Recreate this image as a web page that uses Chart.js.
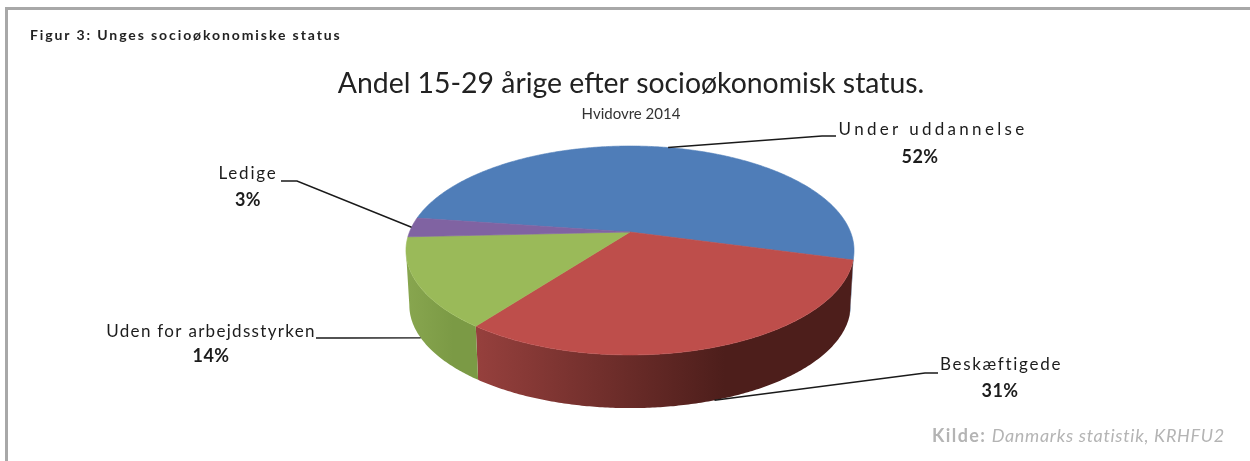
<!DOCTYPE html>
<html lang="da">
<head>
<meta charset="utf-8">
<title>Andel 15-29 årige efter socioøkonomisk status</title>
<script src="https://cdn.jsdelivr.net/npm/chart.js@4/dist/chart.umd.min.js"></script>
<style>
  html, body { margin: 0; background: #fff; }
  #page { position: relative; width: 1250px; height: 461px; overflow: hidden; background: #fff; filter: blur(0.55px); }
  #frame { position: absolute; left: 5px; top: 7px; width: 1260px; height: 480px; border: 3px solid #a8a8a8; }
  #chart { position: absolute; left: 0; top: 0; }
  #figur { position: absolute; left: 30px; top: 26px; font: bold 14px Lato, sans-serif; color: #222; letter-spacing: 1.9px; white-space: nowrap; }
  #kilde { position: absolute; right: 25px; top: 424px; font: 18px Lato, sans-serif; color: #b4b4b4; letter-spacing: 0.7px; white-space: nowrap; }
  #kilde b { letter-spacing: 1.4px; }
</style>
</head>
<body>
<div id="page">
  <div id="frame"></div>
  <canvas id="chart" width="1250" height="461"></canvas>
  <div id="figur">Figur 3: Unges socioøkonomiske status</div>
  <div id="kilde"><b>Kilde:</b> <i>Danmarks statistik, KRHFU2</i></div>
</div>
<script>
'use strict';

/* ── DATA ── */
const categories = ['Under uddannelse', 'Beskæftigede', 'Uden for arbejdsstyrken', 'Ledige'];
const shares = [52, 31, 14, 3];

/* ── COLOURS ── */
const topColors = ['#4f7db8', '#be4e4b', '#9aba59', '#8063a2'];
const wallLight = ['#3b5f8c', '#96403d', '#88a64f', '#60497c'];
const wallDark  = ['#34547c', '#4d1e1b', '#7b9a45', '#60497c'];

/* ── LABEL PLACEMENT ── */
const labelX = [933, 1001, 211, 248];
const labelY = [130, 365, 332, 174];
const pctX   = [920, 1000, 211, 248];
const pctY   = [157, 391, 356, 200];
const labelSpacing = ['3.3px', '1.7px', '1.3px', '1.8px'];

/* leader lines: elbow points from the label side, and whether they land on the lower rim */
const elbowA = [[836, 136], [938, 373], [316, 338], [281, 181]];
const elbowB = [[822, 136], [925, 373], [345, 338], [297, 181]];
const onLowerRim = [false, true, true, false];

/* ── PIE PROJECTION (tilted disc with perspective) ── */
const APEX_X = 630, APEX_Y = 232;
const RX = 220.5, RY = 101.2, PERSP = 0.177;
const DEPTH = 55, LOWER_SCALE = 0.985;

function rim(theta, lower) {
  const u = Math.cos(theta), v = Math.sin(theta);
  const d = 1 - PERSP * v;
  const s = lower ? LOWER_SCALE : 1;
  return [
    APEX_X + s * RX * u / d,
    APEX_Y + (lower ? DEPTH : 0) + s * RY * v / d
  ];
}

function tracePath(ctx, points) {
  ctx.beginPath();
  points.forEach((p, i) => (i ? ctx.lineTo(p[0], p[1]) : ctx.moveTo(p[0], p[1])));
  ctx.closePath();
}

function arcPoints(a, b, lower) {
  const n = Math.max(2, Math.ceil(Math.abs(b - a) / 0.01));
  const pts = [];
  for (let i = 0; i <= n; i++) pts.push(rim(a + (b - a) * i / n, lower));
  return pts;
}

/* ── 3D PIE PLUGIN: takes the slice angles from the library's arc elements ── */
const pie3d = {
  id: 'pie3d',
  beforeDatasetsDraw(chart) {
    const ctx = chart.ctx;
    const arcs = chart.getDatasetMeta(0).data;
    const edge = Math.asin(PERSP);

    ctx.save();
    // side walls
    arcs.forEach((arc, i) => {
      for (let turn = 0; turn < 2; turn++) {
        const lo = Math.max(arc.startAngle, edge + turn * 2 * Math.PI);
        const hi = Math.min(arc.endAngle, Math.PI - edge + turn * 2 * Math.PI);
        if (hi <= lo) continue;
        const upper = arcPoints(lo, hi, false);
        const lower = arcPoints(hi, lo, true);
        const pts = upper.concat(lower);
        const xs = pts.map(p => p[0]);
        const g = ctx.createLinearGradient(Math.min(...xs), 0, Math.max(...xs), 0);
        g.addColorStop(0, wallLight[i]);
        g.addColorStop(0.66, wallDark[i]);
        g.addColorStop(1, wallDark[i]);
        tracePath(ctx, pts);
        ctx.fillStyle = g;
        ctx.fill();
      }
    });
    // top faces
    arcs.forEach((arc, i) => {
      tracePath(ctx, [[APEX_X, APEX_Y]].concat(arcPoints(arc.startAngle, arc.endAngle, false)));
      ctx.fillStyle = topColors[i];
      ctx.strokeStyle = topColors[i];
      ctx.lineWidth = 0.6;
      ctx.fill();
      ctx.stroke();
    });
    // leader lines
    ctx.strokeStyle = '#1a1a1a';
    ctx.lineWidth = 1.4;
    arcs.forEach((arc, i) => {
      const end = rim((arc.startAngle + arc.endAngle) / 2, onLowerRim[i]);
      ctx.beginPath();
      ctx.moveTo(elbowA[i][0], elbowA[i][1]);
      ctx.lineTo(elbowB[i][0], elbowB[i][1]);
      ctx.lineTo(end[0], end[1]);
      ctx.stroke();
    });
    // data labels
    ctx.textAlign = 'center';
    ctx.textBaseline = 'middle';
    ctx.fillStyle = '#1c1c1c';
    categories.forEach((name, i) => {
      ctx.font = '17px Lato, sans-serif';
      ctx.letterSpacing = labelSpacing[i];
      ctx.fillText(name, labelX[i], labelY[i]);
      ctx.font = 'bold 18px Lato, sans-serif';
      ctx.letterSpacing = '0.4px';
      ctx.fillText(shares[i] + '%', pctX[i], pctY[i]);
    });
    ctx.letterSpacing = '0px';
    ctx.restore();
    return false;
  }
};

new Chart(document.getElementById('chart'), {
  type: 'pie',
  data: {
    labels: categories,
    datasets: [{ data: shares, backgroundColor: topColors, borderWidth: 0 }]
  },
  options: {
    responsive: false,
    animation: false,
    rotation: 278.1,
    layout: { padding: { left: 12, top: 0 } },
    plugins: {
      legend: { display: false },
      tooltip: { enabled: false },
      title: {
        display: true,
        text: 'Andel 15-29 årige efter socioøkonomisk status.',
        color: '#222',
        font: { family: 'Lato, sans-serif', size: 28.4, weight: 'normal' },
        padding: { top: 67, bottom: 4 }
      },
      subtitle: {
        display: true,
        text: 'Hvidovre 2014',
        color: '#333',
        font: { family: 'Lato, sans-serif', size: 15, weight: 'normal' },
        padding: { top: 0, bottom: 4 }
      }
    }
  },
  plugins: [pie3d]
});
</script>
</body>
</html>
